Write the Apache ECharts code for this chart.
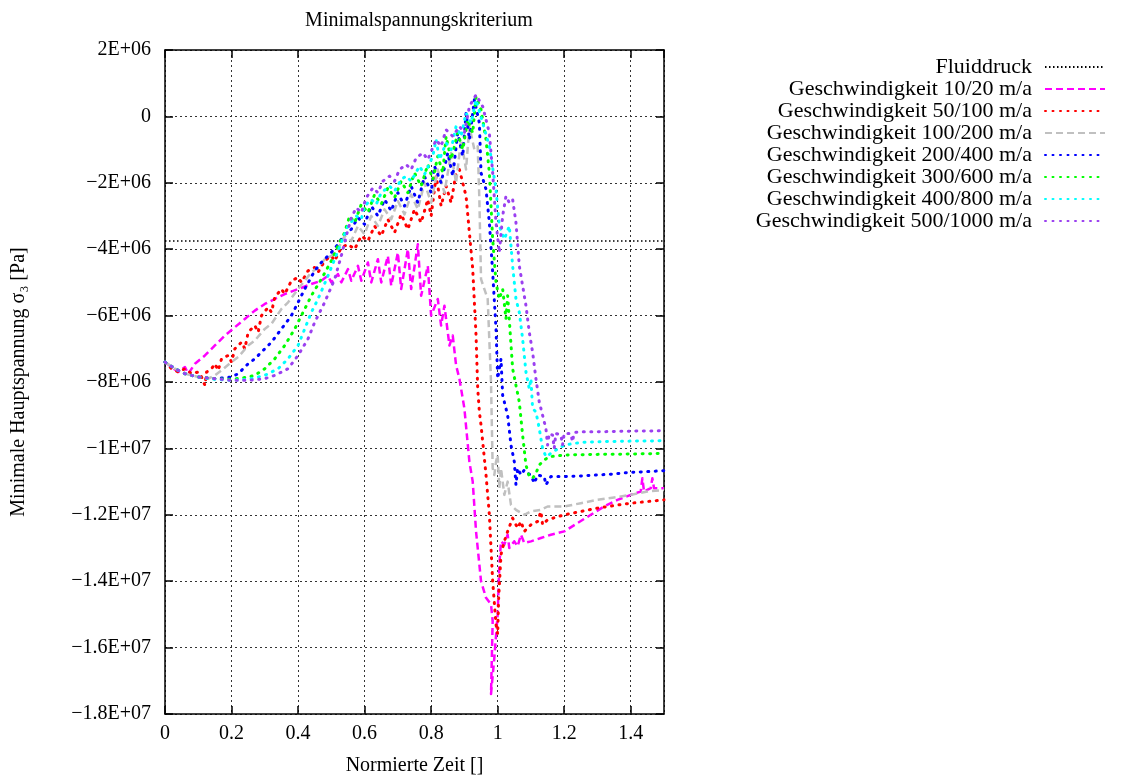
<!DOCTYPE html>
<html>
<head>
<meta charset="utf-8">
<script src="https://cdn.jsdelivr.net/npm/echarts@6/dist/echarts.min.js"></script>
<style>
html,body{margin:0;padding:0;background:#fff;}
#chart{width:1127px;height:781px;}
</style>
</head>
<body>
<div id="chart"></div>
<script>
// ---- data (x: normierte Zeit, y: sigma3 in Pa) ----
const seriesNames = ['Fluiddruck','Geschwindigkeit 10/20 m/a','Geschwindigkeit 50/100 m/a','Geschwindigkeit 100/200 m/a','Geschwindigkeit 200/400 m/a','Geschwindigkeit 300/600 m/a','Geschwindigkeit 400/800 m/a','Geschwindigkeit 500/1000 m/a'];

const fluid = [[0,-3.75e6],[1.5,-3.75e6]];

const v10_20 = [[0,-7.4e6],[0.02,-7.55e6],[0.04,-7.7e6],[0.06,-7.55e6],[0.07,-7.75e6],[0.09,-7.45e6],[0.12,-7.2e6],[0.15,-6.9e6],[0.18,-6.6e6],[0.21,-6.35e6],[0.24,-6.1e6],[0.27,-5.85e6],[0.30,-5.65e6],[0.33,-5.5e6],[0.36,-5.35e6],[0.40,-5.2e6],[0.44,-5.05e6],[0.47,-4.95e6],[0.49,-4.8e6],[0.50,-5.0e6],[0.52,-4.75e6],[0.53,-5.0e6],[0.55,-4.6e6],[0.56,-4.95e6],[0.58,-4.5e6],[0.59,-4.95e6],[0.61,-4.4e6],[0.62,-5.0e6],[0.64,-4.3e6],[0.65,-5.0e6],[0.67,-4.2e6],[0.68,-5.1e6],[0.70,-4.1e6],[0.71,-5.2e6],[0.73,-4.0e6],[0.74,-5.2e6],[0.76,-3.85e6],[0.77,-5.4e6],[0.79,-4.5e6],[0.80,-6.0e6],[0.82,-5.5e6],[0.83,-6.3e6],[0.84,-5.7e6],[0.855,-6.9e6],[0.865,-6.6e6],[0.875,-7.5e6],[0.885,-7.9e6],[0.90,-8.8e6],[0.915,-10.4e6],[0.925,-11.0e6],[0.935,-12.5e6],[0.95,-14.0e6],[0.965,-14.5e6],[0.98,-14.7e6],[0.985,-15.2e6],[0.98,-17.4e6],[0.99,-16.3e6],[1.0,-15.0e6],[1.005,-13.5e6],[1.01,-12.8e6],[1.02,-12.9e6],[1.03,-12.6e6],[1.035,-13.0e6],[1.05,-12.8e6],[1.06,-12.95e6],[1.07,-12.6e6],[1.08,-12.85e6],[1.1,-12.8e6],[1.13,-12.7e6],[1.16,-12.6e6],[1.2,-12.5e6],[1.24,-12.25e6],[1.28,-12.0e6],[1.32,-11.75e6],[1.36,-11.55e6],[1.4,-11.4e6],[1.43,-11.3e6],[1.435,-10.9e6],[1.44,-11.3e6],[1.46,-11.2e6],[1.465,-10.9e6],[1.47,-11.2e6],[1.5,-11.2e6]];

const v50_100 = [[0,-7.4e6],[0.02,-7.6e6],[0.04,-7.7e6],[0.06,-7.6e6],[0.08,-7.75e6],[0.1,-7.7e6],[0.11,-7.85e6],[0.12,-8.1e6],[0.125,-7.7e6],[0.14,-7.6e6],[0.15,-7.45e6],[0.16,-7.65e6],[0.17,-7.3e6],[0.19,-7.2e6],[0.2,-7.4e6],[0.21,-7.0e6],[0.23,-6.8e6],[0.24,-7.0e6],[0.25,-6.5e6],[0.27,-6.3e6],[0.28,-6.5e6],[0.29,-6.0e6],[0.31,-5.75e6],[0.32,-5.9e6],[0.33,-5.45e6],[0.35,-5.2e6],[0.36,-5.35e6],[0.38,-4.95e6],[0.40,-4.85e6],[0.41,-5.0e6],[0.43,-4.65e6],[0.45,-4.55e6],[0.46,-4.7e6],[0.48,-4.35e6],[0.5,-4.2e6],[0.51,-4.35e6],[0.53,-3.95e6],[0.55,-3.85e6],[0.57,-4.0e6],[0.59,-3.6e6],[0.61,-3.75e6],[0.63,-3.3e6],[0.65,-3.6e6],[0.67,-3.1e6],[0.69,-3.5e6],[0.71,-2.95e6],[0.73,-3.4e6],[0.75,-2.8e6],[0.77,-3.2e6],[0.79,-2.5e6],[0.80,-3.0e6],[0.815,-1.8e6],[0.83,-2.7e6],[0.845,-2.1e6],[0.86,-2.6e6],[0.875,-1.7e6],[0.885,-1.6e6],[0.895,-2.0e6],[0.905,-2.4e6],[0.915,-3.5e6],[0.925,-4.6e6],[0.93,-5.6e6],[0.935,-6.6e6],[0.94,-8.2e6],[0.945,-8.9e6],[0.95,-9.3e6],[0.955,-9.8e6],[0.965,-10.8e6],[0.975,-12.0e6],[0.985,-14.0e6],[0.995,-15.3e6],[1.0,-15.6e6],[1.003,-14.5e6],[1.01,-13.2e6],[1.02,-12.8e6],[1.03,-12.5e6],[1.045,-12.1e6],[1.06,-12.4e6],[1.07,-12.2e6],[1.08,-12.5e6],[1.1,-12.3e6],[1.12,-12.2e6],[1.13,-11.9e6],[1.135,-12.3e6],[1.15,-12.15e6],[1.2,-12.0e6],[1.25,-11.9e6],[1.3,-11.8e6],[1.35,-11.72e6],[1.4,-11.65e6],[1.45,-11.6e6],[1.5,-11.55e6]];

const v100_200 = [[0,-7.4e6],[0.03,-7.6e6],[0.06,-7.75e6],[0.1,-7.85e6],[0.13,-7.9e6],[0.15,-7.8e6],[0.17,-7.65e6],[0.2,-7.4e6],[0.22,-7.25e6],[0.25,-6.9e6],[0.27,-6.75e6],[0.3,-6.4e6],[0.32,-6.25e6],[0.35,-5.8e6],[0.37,-5.6e6],[0.4,-5.2e6],[0.42,-4.95e6],[0.44,-4.7e6],[0.46,-4.55e6],[0.48,-4.3e6],[0.5,-4.2e6],[0.52,-4.0e6],[0.54,-3.6e6],[0.56,-3.75e6],[0.58,-3.3e6],[0.6,-3.55e6],[0.62,-3.0e6],[0.64,-3.3e6],[0.66,-2.8e6],[0.68,-3.1e6],[0.70,-2.55e6],[0.72,-2.95e6],[0.74,-2.35e6],[0.76,-2.8e6],[0.78,-2.0e6],[0.80,-2.6e6],[0.82,-1.6e6],[0.84,-2.3e6],[0.86,-1.1e6],[0.875,-2.0e6],[0.89,-0.7e6],[0.905,-1.6e6],[0.915,-0.3e6],[0.93,-1.0e6],[0.94,-0.9e6],[0.945,-2.5e6],[0.95,-4.9e6],[0.97,-5.5e6],[0.98,-8.0e6],[0.985,-10.6e6],[0.99,-10.8e6],[0.995,-10.4e6],[1.0,-10.2e6],[1.005,-11.2e6],[1.01,-10.6e6],[1.02,-11.4e6],[1.03,-11.0e6],[1.04,-11.7e6],[1.055,-11.85e6],[1.08,-12.0e6],[1.1,-11.9e6],[1.13,-11.85e6],[1.15,-11.75e6],[1.2,-11.75e6],[1.25,-11.65e6],[1.3,-11.55e6],[1.35,-11.48e6],[1.4,-11.4e6],[1.45,-11.3e6],[1.5,-11.25e6]];

const v200_400 = [[0,-7.4e6],[0.03,-7.6e6],[0.06,-7.75e6],[0.1,-7.85e6],[0.15,-7.9e6],[0.2,-7.85e6],[0.22,-7.75e6],[0.25,-7.45e6],[0.27,-7.3e6],[0.29,-7.1e6],[0.32,-6.8e6],[0.35,-6.4e6],[0.38,-6.0e6],[0.4,-5.6e6],[0.42,-5.2e6],[0.45,-4.65e6],[0.47,-4.4e6],[0.5,-4.1e6],[0.52,-3.85e6],[0.54,-3.55e6],[0.56,-3.4e6],[0.58,-3.05e6],[0.60,-3.25e6],[0.62,-2.7e6],[0.64,-3.0e6],[0.66,-2.5e6],[0.68,-2.85e6],[0.70,-2.3e6],[0.72,-2.7e6],[0.74,-2.1e6],[0.76,-2.6e6],[0.78,-1.8e6],[0.80,-2.3e6],[0.81,-1.5e6],[0.83,-2.0e6],[0.85,-1.1e6],[0.865,-1.8e6],[0.88,-0.5e6],[0.895,-1.2e6],[0.905,0.1e6],[0.915,-0.7e6],[0.93,0.5e6],[0.945,-0.2e6],[0.95,-1.7e6],[0.965,-2.2e6],[0.975,-3.2e6],[0.985,-4.7e6],[0.995,-6.4e6],[1.0,-7.9e6],[1.01,-7.3e6],[1.015,-8.4e6],[1.03,-9.0e6],[1.04,-9.9e6],[1.05,-10.4e6],[1.055,-11.1e6],[1.06,-10.6e6],[1.07,-10.8e6],[1.08,-10.65e6],[1.09,-10.75e6],[1.1,-10.8e6],[1.11,-11.05e6],[1.12,-10.8e6],[1.14,-10.85e6],[1.145,-11.1e6],[1.16,-10.85e6],[1.2,-10.85e6],[1.25,-10.83e6],[1.3,-10.8e6],[1.35,-10.77e6],[1.4,-10.72e6],[1.45,-10.7e6],[1.5,-10.67e6]];

const v300_600 = [[0,-7.4e6],[0.03,-7.6e6],[0.06,-7.75e6],[0.1,-7.85e6],[0.15,-7.9e6],[0.2,-7.92e6],[0.25,-7.85e6],[0.27,-7.8e6],[0.3,-7.6e6],[0.33,-7.3e6],[0.36,-6.9e6],[0.39,-6.4e6],[0.42,-5.8e6],[0.44,-5.4e6],[0.47,-4.9e6],[0.5,-4.35e6],[0.52,-3.9e6],[0.54,-3.5e6],[0.555,-3.0e6],[0.57,-3.2e6],[0.59,-2.65e6],[0.61,-2.9e6],[0.63,-2.35e6],[0.65,-2.65e6],[0.67,-2.15e6],[0.69,-2.45e6],[0.71,-1.95e6],[0.73,-2.3e6],[0.75,-1.7e6],[0.77,-2.1e6],[0.79,-1.45e6],[0.805,-1.9e6],[0.82,-1.2e6],[0.835,-1.7e6],[0.845,-0.6e6],[0.86,-1.3e6],[0.88,-0.5e6],[0.895,-1.0e6],[0.91,-0.1e6],[0.925,-0.5e6],[0.935,0.6e6],[0.95,0.2e6],[0.965,-0.7e6],[0.975,-1.7e6],[0.985,-3.7e6],[0.995,-5.0e6],[1.005,-5.5e6],[1.015,-5.2e6],[1.025,-6.1e6],[1.03,-5.4e6],[1.045,-7.6e6],[1.065,-8.6e6],[1.075,-9.6e6],[1.085,-10.5e6],[1.095,-10.85e6],[1.105,-10.9e6],[1.115,-10.75e6],[1.125,-10.5e6],[1.14,-10.35e6],[1.155,-10.25e6],[1.2,-10.2e6],[1.3,-10.18e6],[1.4,-10.17e6],[1.5,-10.15e6]];

const v400_800 = [[0,-7.4e6],[0.03,-7.6e6],[0.06,-7.75e6],[0.1,-7.85e6],[0.15,-7.92e6],[0.2,-7.95e6],[0.25,-7.92e6],[0.3,-7.8e6],[0.34,-7.6e6],[0.37,-7.3e6],[0.4,-6.9e6],[0.42,-6.4e6],[0.44,-5.9e6],[0.46,-5.5e6],[0.49,-4.8e6],[0.51,-4.3e6],[0.53,-3.8e6],[0.55,-3.3e6],[0.575,-3.0e6],[0.59,-3.1e6],[0.6,-2.7e6],[0.62,-2.5e6],[0.635,-2.65e6],[0.65,-2.3e6],[0.675,-2.1e6],[0.69,-2.25e6],[0.71,-1.9e6],[0.725,-1.8e6],[0.74,-1.95e6],[0.765,-1.5e6],[0.78,-1.75e6],[0.805,-1.2e6],[0.815,-0.7e6],[0.825,-1.3e6],[0.845,-0.8e6],[0.86,-1.0e6],[0.875,-0.3e6],[0.89,-0.6e6],[0.905,0.1e6],[0.92,-0.2e6],[0.935,0.5e6],[0.955,-0.2e6],[0.975,-0.9e6],[0.995,-2.2e6],[1.005,-3.3e6],[1.02,-3.7e6],[1.035,-3.3e6],[1.045,-4.5e6],[1.055,-5.5e6],[1.065,-5.9e6],[1.075,-6.7e6],[1.085,-7.7e6],[1.095,-8.2e6],[1.1,-7.9e6],[1.105,-8.8e6],[1.115,-8.9e6],[1.125,-9.4e6],[1.135,-10.0e6],[1.145,-10.25e6],[1.16,-10.15e6],[1.175,-10.05e6],[1.2,-9.9e6],[1.25,-9.82e6],[1.3,-9.8e6],[1.4,-9.78e6],[1.5,-9.77e6]];

const v500_1000 = [[0,-7.4e6],[0.03,-7.6e6],[0.06,-7.75e6],[0.1,-7.85e6],[0.15,-7.9e6],[0.2,-7.95e6],[0.25,-7.95e6],[0.3,-7.9e6],[0.33,-7.8e6],[0.37,-7.6e6],[0.4,-7.2e6],[0.43,-6.7e6],[0.45,-6.2e6],[0.48,-5.6e6],[0.51,-4.9e6],[0.53,-4.2e6],[0.545,-3.6e6],[0.56,-3.05e6],[0.575,-2.75e6],[0.59,-2.9e6],[0.605,-2.45e6],[0.625,-2.15e6],[0.64,-2.3e6],[0.655,-1.95e6],[0.675,-1.8e6],[0.69,-1.95e6],[0.705,-1.6e6],[0.725,-1.45e6],[0.74,-1.6e6],[0.755,-1.25e6],[0.775,-1.1e6],[0.79,-1.3e6],[0.815,-0.7e6],[0.83,-0.9e6],[0.845,-0.4e6],[0.865,-0.6e6],[0.885,-0.3e6],[0.9,-0.5e6],[0.915,0.3e6],[0.935,0.65e6],[0.955,0.3e6],[0.975,-0.5e6],[0.985,-1.7e6],[0.995,-3.2e6],[1.005,-4.1e6],[1.015,-3.0e6],[1.025,-2.4e6],[1.035,-2.6e6],[1.045,-2.5e6],[1.055,-3.2e6],[1.065,-4.5e6],[1.085,-5.7e6],[1.095,-6.5e6],[1.105,-7.1e6],[1.115,-7.9e6],[1.125,-8.6e6],[1.135,-9.0e6],[1.145,-9.4e6],[1.15,-9.9e6],[1.155,-9.55e6],[1.165,-9.6e6],[1.17,-10.0e6],[1.175,-9.55e6],[1.19,-9.6e6],[1.195,-9.9e6],[1.2,-9.55e6],[1.22,-9.55e6],[1.225,-9.8e6],[1.23,-9.52e6],[1.26,-9.5e6],[1.3,-9.5e6],[1.4,-9.48e6],[1.5,-9.47e6]];

const seriesData = [fluid, v10_20, v50_100, v100_200, v200_400, v300_600, v400_800, v500_1000];
const seriesColors = ['#000000','#ff00ff','#ff0000','#c0c0c0','#0000ff','#00ff00','#00ffff','#9b40f0'];

// ---- styles ----
const FONT = 'Liberation Serif';
const dotted = [1, 6.5];
const dashed = [7, 4];
const lineTypes = [[1.5,2.5], dashed, dotted, dashed, dotted, dotted, dotted, dotted];
const lineWidths = [1.5, 2.5, 3, 2.5, 3, 3, 3, 3];
const lineCaps = ['butt', 'butt', 'round', 'butt', 'round', 'round', 'round', 'round'];

function fmtY(v){
  if (v === 0) return '0';
  const sign = v < 0 ? '\u2212' : '';
  const a = Math.abs(v);
  const e = Math.floor(Math.log10(a) + 1e-9);
  const m = +(a / Math.pow(10, e)).toFixed(2);
  return sign + m + 'E+' + String(e).padStart(2, '0');
}

const chart = echarts.init(document.getElementById('chart'), null, {renderer:'canvas'});

const axisCommon = {
  axisLine: {show: true, onZero: false, lineStyle: {color: '#000', width: 1.5}},
  axisTick: {show: true, inside: true, length: 8, lineStyle: {color: '#000', width: 1.5}},
};

const option = {
  animation: false,
  backgroundColor: '#fff',
  title: {
    text: 'Minimalspannungskriterium',
    left: 414, top: 6, textAlign: 'center',
    textStyle: {fontFamily: FONT, fontSize: 20, fontWeight: 'normal', color: '#000'}
  },
  grid: {left: 165, right: 463, top: 50, bottom: 66, containLabel: false},
  legend: {
    orient: 'vertical', align: 'right', right: 16, top: 51,
    itemWidth: 60, itemHeight: 12, itemGap: 0,
    itemStyle: {opacity: 0},
    textStyle: {fontFamily: FONT, fontSize: 22, color: '#000', lineHeight: 22, padding: [0, 8, 0, 0]},
    data: seriesNames
  },
  xAxis: [
    Object.assign({
      type: 'value', min: 0, max: 1.5, interval: 0.2, position: 'bottom',
      name: 'Normierte Zeit []', nameLocation: 'middle', nameGap: 42,
      nameTextStyle: {fontFamily: FONT, fontSize: 20, color: '#000'},
      axisLabel: {fontFamily: FONT, fontSize: 20, color: '#000', margin: 10, showMaxLabel: false},
      splitLine: {show: true, lineStyle: {color: '#333', width: 1, type: [2, 3]}}
    }, axisCommon),
    Object.assign({
      type: 'value', min: 0, max: 1.5, interval: 0.2, position: 'top',
      axisLabel: {show: false}, splitLine: {show: false}
    }, axisCommon)
  ],
  yAxis: [
    Object.assign({
      type: 'value', min: -1.8e7, max: 2e6, interval: 2e6, position: 'left',
      name: 'Minimale Hauptspannung \u03c3\u2083 [Pa]', nameLocation: 'middle', nameGap: 136,
      nameTextStyle: {fontFamily: FONT, fontSize: 20, color: '#000'},
      axisLabel: {fontFamily: FONT, fontSize: 20, color: '#000', margin: 14, formatter: fmtY},
      splitLine: {show: true, lineStyle: {color: '#333', width: 1, type: [2, 3]}}
    }, axisCommon),
    Object.assign({
      type: 'value', min: -1.8e7, max: 2e6, interval: 2e6, position: 'right',
      axisLabel: {show: false}, splitLine: {show: false}
    }, axisCommon)
  ],
  series: seriesNames.map((n, i) => ({
    name: n, type: 'line', xAxisIndex: 0, yAxisIndex: 0,
    data: seriesData[i], showSymbol: false, symbol: 'none',
    color: seriesColors[i],
    lineStyle: {color: seriesColors[i], width: lineWidths[i], type: lineTypes[i], cap: lineCaps[i], join: 'round'},
    z: 2 + i
  }))
};
chart.setOption(option);
</script>
</body>
</html>
